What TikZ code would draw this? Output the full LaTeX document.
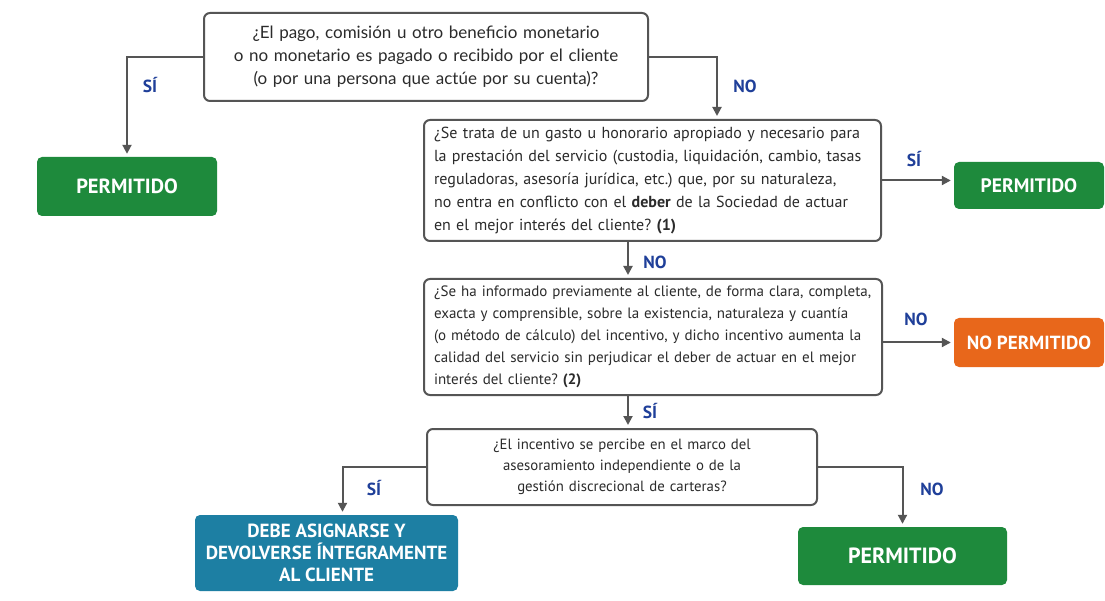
\documentclass[tikz,border=0pt]{standalone}
\usepackage{fontspec}
\setmainfont{PT Sans}
\newfontfamily\latofont{Lato}
\usetikzlibrary{positioning,arrows.meta}
\frenchspacing

\definecolor{okgreen}{HTML}{1E8A3C}
\definecolor{nogood}{HTML}{E8671B}
\definecolor{tealblue}{HTML}{1D7FA3}
\definecolor{answer}{HTML}{1F3F99}
\definecolor{textgray}{HTML}{2B2B2B}
\definecolor{linegray}{HTML}{555555}

\tikzset{
  question/.style={draw=linegray, line width=2pt, rounded corners=6pt, fill=white,
    text=textgray, inner xsep=10pt, inner ysep=3pt},
  outcome/.style={rounded corners=5pt, text=white, align=center, inner sep=2pt},
  answerlabel/.style={text=answer, font=\bfseries\fontsize{17.5}{17.5}\selectfont},
  flow/.style={draw=linegray, line width=2pt, -{Triangle[length=9pt,width=9pt]}, shorten >=3pt},
}

\begin{document}
\begin{tikzpicture}[x=1pt,y=-1pt]
    \useasboundingbox[fill=white] (0,0) rectangle (1105,601);

    % questions
    \node[question,text width=424pt,minimum height=88pt,align=center,
          font=\latofont\fontsize{17}{23}\selectfont] (q1) at (426,57)
        {¿El pago, comisión u otro beneficio monetario\\
         o no monetario es pagado o recibido por el cliente\\
         (o por una persona que actúe por su cuenta)?};
    \node[question,text width=437pt,minimum height=121pt,align=left,
          font=\fontsize{16}{23}\selectfont] (q2) at (652.5,180.5)
        {¿Se trata de un gasto u honorario apropiado y necesario para\\
         la prestación del servicio (custodia, liquidación, cambio, tasas\\
         reguladoras, asesoría jurídica, etc.) que, por su naturaleza,\\
         no entra en conflicto con el \textbf{deber} de la Sociedad de actuar\\
         en el mejor interés del cliente? \textbf{(1)}};
    \node[question,text width=438pt,minimum height=116pt,align=left,
          font=\fontsize{15}{22}\selectfont] (q3) at (653,337)
        {¿Se ha informado previamente al cliente, de forma clara, completa,\\
         exacta y comprensible, sobre la existencia, naturaleza y cuantía\\
         (o método de cálculo) del incentivo, y dicho incentivo aumenta la\\
         calidad del servicio sin perjudicar el deber de actuar en el mejor\\
         interés del cliente? \textbf{(2)}};
    \node[question,text width=370pt,minimum height=76pt,align=center,
          font=\fontsize{14.8}{21}\selectfont] (q4) at (622,467)
        {¿El incentivo se percibe en el marco del\\
         asesoramiento independiente o de la\\
         gestión discrecional de carteras?};

    % outcomes
    \node[outcome,fill=okgreen,minimum width=180pt,minimum height=59pt,
          font=\bfseries\fontsize{20.5}{20.5}\selectfont] (p1) at (127,186.5) {PERMITIDO};
    \node[outcome,fill=okgreen,minimum width=150pt,minimum height=47pt,
          font=\bfseries\fontsize{19.5}{19.5}\selectfont] (p2) at (1029,185.5) {PERMITIDO};
    \node[outcome,fill=nogood,minimum width=150pt,minimum height=49pt,
          font=\bfseries\fontsize{19}{19}\selectfont] (np) at (1029,342.5) {NO PERMITIDO};
    \node[outcome,fill=tealblue,minimum width=263pt,minimum height=76pt,
          font=\bfseries\fontsize{19}{22}\selectfont] (dev) at (326.5,553)
        {DEBE ASIGNARSE Y\\ DEVOLVERSE ÍNTEGRAMENTE\\ AL CLIENTE};
    \node[outcome,fill=okgreen,minimum width=209pt,minimum height=58pt,
          font=\bfseries\fontsize{22}{22}\selectfont] (p3) at (902.5,556) {PERMITIDO};

    % answers
    \node[answerlabel] (si1) at (150,85) {SÍ};
    \node[answerlabel] (no1) at (745,86) {NO};
    \node[answerlabel] (si2) at (914,159) {SÍ};
    \node[answerlabel] (no2) at (655,262) {NO};
    \node[answerlabel] (no3) at (916,319) {NO};
    \node[answerlabel] (si3) at (650,411) {SÍ};
    \node[answerlabel] (si4) at (374,488) {SÍ};
    \node[answerlabel] (no4) at (932,489) {NO};

    % connectors
    \draw[flow] (q1.west) -| (p1.north);
    \draw[flow] (q1.east) -| ([xshift=64.5pt]q2.north);
    \draw[flow] (q2.east) -- (p2.west |- q2.east);
    \draw[flow] ([xshift=-24.5pt]q2.south) -- ([xshift=-24.5pt]q2.south |- q3.north);
    \draw[flow] (q3.east |- np.west) -- (np.west);
    \draw[flow] ([xshift=-25pt]q3.south) -- ([xshift=-25pt]q3.south |- q4.north);
    \draw[flow] (q4.west) -| ([xshift=16pt]dev.north);
    \draw[flow] (q4.east) -| (p3.north);
\end{tikzpicture}
\end{document}
